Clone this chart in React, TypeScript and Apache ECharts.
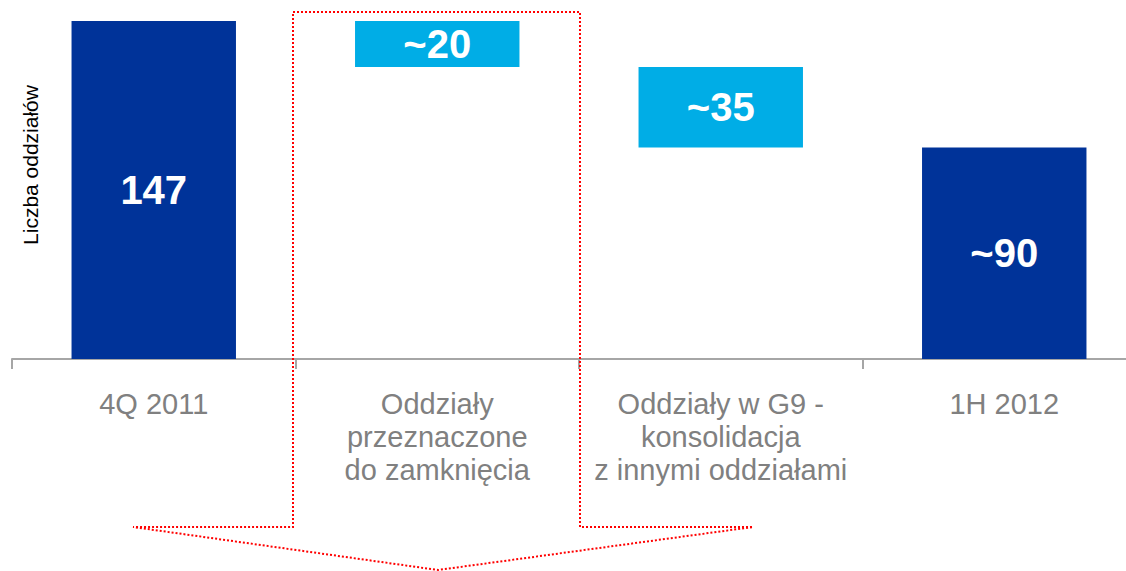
import React, { useEffect, useRef } from "react";
import * as echarts from "echarts";

const categories = ["4Q 2011", "Oddziały\nprzeznaczone\ndo zamknięcia", "Oddziały w G9 -\nkonsolidacja\nz innymi oddziałami", "1H 2012"];
const baseValues = [0, 127, 92, 0];
const barValues = [147, 20, 35, 92];
const barLabels = ["147", "~20", "~35", "~90"];
const barColors = ["#003399", "#00ade6", "#00ade6", "#003399"];
const yAxisTitle = "Liczba oddziałów";

export default function App() {
  const ref = useRef<HTMLDivElement>(null);
  useEffect(() => {
    if (!ref.current) return;
    const chart = echarts.init(ref.current, undefined, { renderer: "svg" });
    chart.setOption({
      animation: false,
      grid: { left: 12, right: 14, top: 21, bottom: 212, containLabel: false },
      xAxis: {
        type: "category",
        data: categories,
        axisLine: { lineStyle: { color: "#a6a6a6", width: 2 } },
        axisTick: { show: true, length: 10, lineStyle: { color: "#a6a6a6", width: 2 } },
        axisLabel: {
          color: "#808080",
          fontSize: 29,
          fontFamily: "Liberation Sans, Arial, sans-serif",
          lineHeight: 33,
          margin: 28,
          interval: 0,
        },
      },
      yAxis: {
        type: "value",
        min: 0,
        max: 147,
        show: false,
        splitLine: { show: false },
      },
      series: [
        {
          type: "bar",
          stack: "w",
          data: baseValues,
          itemStyle: { color: "transparent" },
          barWidth: "58%",
          silent: true,
        },
        {
          type: "bar",
          stack: "w",
          barWidth: "58%",
          data: barValues.map((v, i) => ({
            value: v,
            itemStyle: { color: barColors[i] },
          })),
          label: {
            show: true,
            position: "inside",
            color: "#ffffff",
            fontWeight: "bold",
            fontSize: 40,
            fontFamily: "Liberation Sans, Arial, sans-serif",
            formatter: (p: any) => barLabels[p.dataIndex],
          },
        },
      ],
      graphic: [
        {
          type: "text",
          x: 30,
          y: 165,
          rotation: Math.PI / 2,
          style: {
            text: yAxisTitle,
            fill: "#000000",
            fontSize: 21,
            fontFamily: "Liberation Sans, Arial, sans-serif",
            textAlign: "center",
            textVerticalAlign: "middle",
          },
        },
        {
          type: "polygon",
          shape: {
            points: [
              [293, 12],
              [580, 12],
              [580, 527],
              [753, 527],
              [438, 570],
              [133, 527],
              [293, 527],
            ],
          },
          style: {
            fill: "none",
            stroke: "#ff0000",
            lineWidth: 2,
            lineDash: [2, 2],
          },
          z: 100,
        },
      ],
    });
    return () => chart.dispose();
  }, []);
  return (
    <div style={{ position: "absolute", left: 0, top: 0, width: 1126, height: 571, overflow: "hidden", background: "#fff" }}>
      <div ref={ref} style={{ width: 1160, height: 571 }} />
    </div>
  );
}
